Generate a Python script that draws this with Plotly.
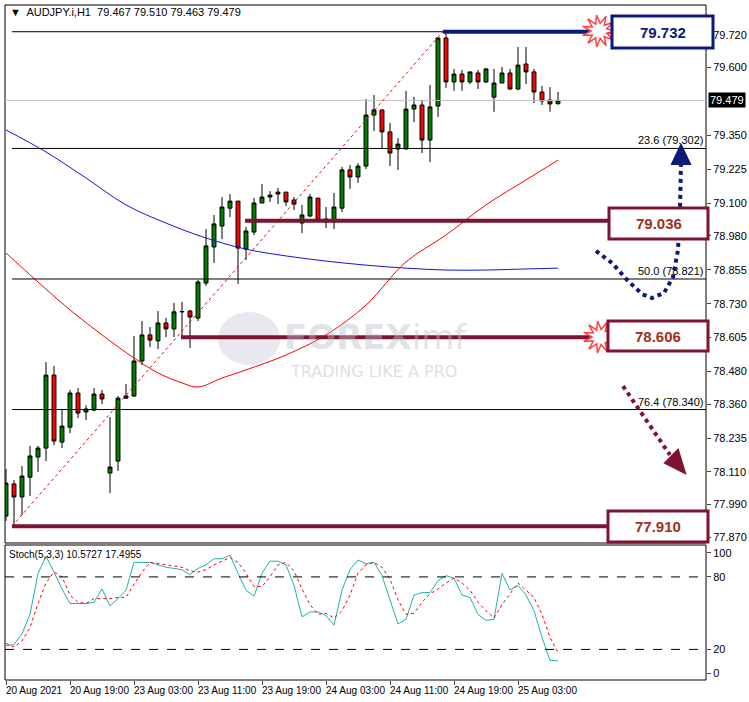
import math
import plotly.graph_objects as go

W, H = 749, 702

# ---- data (AUDJPY.i H1) ----
opens = [77.948, 78.066, 78.018, 78.091, 78.165, 78.198, 78.467, 78.220, 78.275, 78.401,
         78.331, 78.338, 78.397, 78.106, 78.150, 78.382, 78.390, 78.519, 78.615, 78.593,
         78.659, 78.637, 78.700, 78.703, 78.677, 78.806, 78.939, 79.016, 79.082, 79.108,
         78.931, 78.994, 79.101, 79.123, 79.134, 79.141, 79.112, 79.027, 79.053, 79.119,
         79.042, 79.031, 79.082, 79.223, 79.197, 79.237, 79.425, 79.444, 79.363, 79.300,
         79.300, 79.447, 79.462, 79.333, 79.458, 79.709, 79.547, 79.576, 79.547, 79.580,
         79.547, 79.491, 79.543, 79.580, 79.521, 79.613, 79.584, 79.510, 79.480, 79.467]
highs = [78.121, 78.080, 78.132, 78.206, 78.206, 78.515, 78.500, 78.338, 78.412, 78.419,
         78.356, 78.419, 78.412, 78.312, 78.390, 78.434, 78.611, 78.666, 78.644, 78.703,
         78.677, 78.733, 78.736, 78.707, 78.817, 79.005, 79.057, 79.123, 79.134, 79.108,
         79.013, 79.119, 79.171, 79.145, 79.156, 79.141, 79.123, 79.094, 79.134, 79.119,
         79.086, 79.138, 79.234, 79.241, 79.248, 79.484, 79.499, 79.444, 79.396, 79.340,
         79.514, 79.492, 79.480, 79.536, 79.709, 79.732, 79.595, 79.591, 79.584, 79.591,
         79.598, 79.595, 79.602, 79.595, 79.676, 79.676, 79.595, 79.532, 79.528, 79.510]
lows = [77.930, 77.910, 77.951, 78.021, 78.110, 78.150, 78.209, 78.198, 78.253, 78.309,
        78.301, 78.334, 78.360, 78.032, 78.114, 78.379, 78.386, 78.504, 78.570, 78.563,
        78.607, 78.607, 78.607, 78.567, 78.666, 78.795, 78.880, 78.968, 79.049, 78.803,
        78.891, 78.983, 79.101, 79.105, 79.097, 79.090, 79.075, 78.990, 79.049, 79.035,
        79.009, 79.005, 79.068, 79.153, 79.175, 79.226, 79.366, 79.300, 79.237, 79.223,
        79.300, 79.399, 79.285, 79.252, 79.418, 79.525, 79.514, 79.514, 79.539, 79.521,
        79.543, 79.437, 79.543, 79.517, 79.517, 79.539, 79.469, 79.462, 79.437, 79.463]
closes = [78.069, 78.018, 78.095, 78.169, 78.198, 78.467, 78.224, 78.279, 78.401, 78.327,
          78.342, 78.397, 78.379, 78.128, 78.382, 78.390, 78.519, 78.615, 78.596, 78.659,
          78.637, 78.700, 78.701, 78.681, 78.810, 78.943, 79.024, 79.086, 79.108, 78.935,
          78.998, 79.101, 79.123, 79.130, 79.141, 79.105, 79.097, 79.057, 79.123, 79.038,
          79.031, 79.086, 79.223, 79.197, 79.237, 79.425, 79.444, 79.363, 79.285, 79.318,
          79.447, 79.462, 79.333, 79.455, 79.709, 79.547, 79.576, 79.547, 79.584, 79.547,
          79.595, 79.543, 79.580, 79.521, 79.609, 79.584, 79.510, 79.477, 79.466, 79.479]

ma_blue_idx = [0, 5, 10, 15, 20, 25, 30, 35, 40, 45, 50, 55, 60, 65, 69]
ma_blue = [79.370, 79.289, 79.193, 79.094, 79.027, 78.972, 78.931, 78.906, 78.887,
           78.872, 78.861, 78.854, 78.854, 78.858, 78.861]
ma_red_idx = [0, 4, 8, 12, 16, 19, 22, 24, 27, 30, 35, 40, 45, 50, 55, 60, 65, 69]
ma_red = [78.917, 78.810, 78.707, 78.615, 78.530, 78.475, 78.438, 78.423, 78.456,
          78.486, 78.541, 78.615, 78.725, 78.884, 78.983, 79.094, 79.186, 79.259]

stoch_main = [23, 24, 33, 49, 83, 97, 84, 70, 58, 58, 58, 59, 70, 56, 62, 69, 92, 92, 92, 90,
              88, 87, 86, 82, 87, 90, 95, 95, 98, 83, 69, 64, 83, 93, 93, 90, 73, 47, 51, 51,
              48, 40, 69, 86, 94, 91, 92, 81, 61, 41, 45, 65, 67, 67, 77, 81, 79, 65, 63, 49,
              44, 45, 83, 69, 73, 65, 52, 30, 11, 10.57]
stoch_signal = [25, 22, 27, 38, 58, 75, 84, 80, 65, 59, 58, 62, 62, 62, 63, 63, 74, 84, 92, 91,
                90, 89, 88, 85, 84, 86, 90, 93, 96, 92, 83, 72, 72, 80, 90, 92, 85, 70, 57, 49,
                50, 46, 52, 65, 83, 90, 92, 88, 78, 61, 49, 50, 59, 66, 70, 75, 79, 75, 69, 59,
                52, 46, 57, 66, 75, 69, 63, 49, 30, 17.50]

tick_idx = [0, 8, 16, 24, 32, 40, 48, 56, 64]
tick_text = ["20 Aug 2021", "20 Aug 19:00", "23 Aug 03:00", "23 Aug 11:00", "23 Aug 19:00",
             "24 Aug 03:00", "24 Aug 11:00", "24 Aug 19:00", "25 Aug 03:00"]
price_ticks = [79.720, 79.600, 79.350, 79.225, 79.100, 78.980, 78.855, 78.730, 78.605,
               78.480, 78.360, 78.235, 78.110, 77.990, 77.870]

swing_low, swing_high = 77.910, 79.732
fib_levels = [(23.6, 79.302), (50.0, 78.821), (76.4, 78.340)]
support_levels = [79.036, 78.606]
last_price = 79.479

NAVY = "#0c1a7a"
MAROON = "#7d1530"
TXT_RED = "#a0301c"
FONT = "Liberation Sans"


def px(x):
    return x / W


def py(y):
    return 1 - y / H


bars = list(range(len(opens)))
fig = go.Figure()

fig.add_trace(go.Candlestick(
    x=bars, open=opens, high=highs, low=lows, close=closes,
    increasing=dict(fillcolor="#008000", line=dict(color="black", width=1)),
    decreasing=dict(fillcolor="#ff0000", line=dict(color="black", width=1)),
    whiskerwidth=0, showlegend=False, hoverinfo="skip",
))
fig.add_trace(go.Scatter(x=ma_blue_idx, y=ma_blue, mode="lines", line=dict(color="#1414e0", width=1),
                         line_shape="spline", showlegend=False))
fig.add_trace(go.Scatter(x=ma_red_idx, y=ma_red, mode="lines", line=dict(color="#ff0000", width=1),
                         line_shape="spline", showlegend=False))

fig.add_trace(go.Scatter(x=bars, y=stoch_main, mode="lines", line=dict(color="#20b2aa", width=1),
                         xaxis="x2", yaxis="y2", showlegend=False))
fig.add_trace(go.Scatter(x=bars, y=stoch_signal, mode="lines", line=dict(color="#ff0000", width=1, dash="dot"),
                         xaxis="x2", yaxis="y2", showlegend=False))

shapes = []
ann = []

# panel frames
shapes.append(dict(type="rect", xref="paper", yref="paper", x0=px(5), x1=px(706), y0=py(543), y1=py(5),
                   line=dict(color="black", width=1)))
shapes.append(dict(type="rect", xref="paper", yref="paper", x0=px(5), x1=px(706), y0=py(680), y1=py(545),
                   line=dict(color="black", width=1)))

# watermark
shapes.append(dict(type="circle", xref="paper", yref="paper", x0=px(218), x1=px(280), y0=py(365), y1=py(312),
                   fillcolor="rgba(190,190,205,0.35)", line=dict(width=0), layer="below"))
ann.append(dict(text="<b>FOREX</b>imf", x=px(282), y=py(337), xref="paper", yref="paper", showarrow=False,
                xanchor="left", yanchor="middle", font=dict(family="DejaVu Sans", size=34,
                                                            color="rgba(190,190,205,0.45)")))
ann.append(dict(text="TRADING LIKE A PRO", x=px(288), y=py(371), xref="paper", yref="paper", showarrow=False,
                xanchor="left", yanchor="middle", font=dict(family="DejaVu Sans", size=16,
                                                            color="rgba(190,190,205,0.5)")))

# current price line
shapes.append(dict(type="line", xref="paper", yref="y", x0=px(5), x1=px(706), y0=last_price, y1=last_price,
                   line=dict(color="#c0c0c0", width=1)))
# fib lines
shapes.append(dict(type="line", xref="paper", yref="y", x0=px(12), x1=px(608), y0=swing_high, y1=swing_high,
                   line=dict(color="black", width=1)))
for pct, lvl in fib_levels:
    shapes.append(dict(type="line", xref="paper", yref="y", x0=px(12), x1=px(706), y0=lvl, y1=lvl,
                       line=dict(color="black", width=1)))
    ann.append(dict(text=f"{pct:.1f} ({lvl:.3f})", x=px(705), y=lvl, xref="paper", yref="y", showarrow=False,
                    xanchor="right", yanchor="bottom", font=dict(family=FONT, size=11, color="black")))
shapes.append(dict(type="line", xref="x", yref="y", x0=0.75, x1=54.6, y0=swing_low, y1=swing_high,
                   line=dict(color="#ff0000", width=1, dash="dot")))

# thick support / resistance lines
shapes.append(dict(type="line", xref="paper", yref="y", x0=px(443), x1=px(612), y0=swing_high, y1=swing_high,
                   line=dict(color=NAVY, width=4)))
for lvl, x0 in [(support_levels[0], 245), (support_levels[1], 181), (swing_low, 12)]:
    shapes.append(dict(type="line", xref="paper", yref="y", x0=px(x0), x1=px(608), y0=lvl, y1=lvl,
                       line=dict(color=MAROON, width=4)))


# dotted arrows
def path_px(pts):
    return "M " + " L ".join(f"{px(a):.4f},{py(b):.4f}" for a, b in pts)


shapes.append(dict(type="path", xref="paper", yref="paper",
                   path=path_px([(596, 251), (612, 263), (628, 281), (642, 294), (652, 298), (664, 293),
                                 (673, 277), (678, 250), (680, 210), (681, 162)]),
                   line=dict(color=NAVY, width=4, dash="dot")))
shapes.append(dict(type="path", xref="paper", yref="paper",
                   path=path_px([(672, 164), (690, 164), (681, 145)]) + " Z", fillcolor=NAVY, line=dict(color=NAVY)))
shapes.append(dict(type="path", xref="paper", yref="paper",
                   path=path_px([(623, 386), (670, 455)]), line=dict(color=MAROON, width=4, dash="dot")))
shapes.append(dict(type="path", xref="paper", yref="paper",
                   path=path_px([(665, 463), (678, 450), (685, 473)]) + " Z", fillcolor=MAROON, line=dict(color=MAROON)))


# starbursts
def star(cx, cy, r1=17, r2=8, n=11):
    pts = []
    for k in range(2 * n):
        r = r1 if k % 2 == 0 else r2
        a = math.pi * k / n
        pts.append((px(cx + r * math.cos(a)), py(cy + r * math.sin(a) * 0.95)))
    return "M " + " L ".join(f"{a:.4f},{b:.4f}" for a, b in pts) + " Z"


for cx, cy in [(599, 31), (600, 337)]:
    shapes.append(dict(type="path", xref="paper", yref="paper", path=star(cx, cy), fillcolor="white",
                       line=dict(color="#ff4040", width=1.5)))

# labelled boxes
for lvl, (x0, y0, x1, y1), lc, tc in [
    (swing_high, (612, 16, 713, 48), NAVY, NAVY),
    (support_levels[0], (609, 208, 708, 239), MAROON, TXT_RED),
    (support_levels[1], (608, 321, 708, 351), MAROON, TXT_RED),
    (swing_low, (608, 511, 708, 542), MAROON, TXT_RED),
]:
    shapes.append(dict(type="rect", xref="paper", yref="paper", x0=px(x0), x1=px(x1), y0=py(y1), y1=py(y0),
                       fillcolor="white", line=dict(color=lc, width=3)))
    ann.append(dict(text=f"<b>{lvl:.3f}</b>", x=px((x0 + x1) / 2), y=py((y0 + y1) / 2), xref="paper", yref="paper",
                    xanchor="center", yanchor="middle", showarrow=False,
                    font=dict(family=FONT, size=15, color=tc)))

# stochastic levels
for lvl in [80, 20]:
    shapes.append(dict(type="line", xref="paper", yref="y2", x0=px(5), x1=px(706), y0=lvl, y1=lvl,
                       line=dict(color="black", width=1, dash="dash")))

# texts
ann.append(dict(text="▼  AUDJPY.i,H1  79.467 79.510 79.463 79.479", x=px(8), y=py(12), xref="paper", yref="paper",
                showarrow=False, xanchor="left", yanchor="middle", font=dict(family=FONT, size=11, color="black")))
ann.append(dict(text="Stoch(5,3,3) 10.5727 17.4955", x=px(7), y=py(554), xref="paper", yref="paper",
                showarrow=False, xanchor="left", yanchor="middle", font=dict(family=FONT, size=10, color="black")))
ann.append(dict(text=f"{last_price:.3f}", x=px(708), y=last_price, xref="paper", yref="y", showarrow=False,
                xanchor="left", yanchor="middle", bgcolor="black", borderpad=1,
                font=dict(family=FONT, size=11, color="white")))
for i, t in zip(tick_idx, tick_text):
    ann.append(dict(text=t, x=px(4 + 8 * i), y=py(690), xref="paper", yref="paper", showarrow=False,
                    xanchor="left", yanchor="middle", font=dict(family=FONT, size=10, color="black")))

xr = [-0.125, 87.5]
fig.update_layout(
    width=W, height=H, margin=dict(l=0, r=0, t=0, b=0),
    paper_bgcolor="white", plot_bgcolor="white",
    font=dict(family=FONT, size=11, color="black"),
    xaxis=dict(domain=[px(5), px(706)], range=xr, showgrid=False, showticklabels=False,
               rangeslider=dict(visible=False), zeroline=False),
    yaxis=dict(domain=[py(543), py(5)], range=[77.8483, 79.8305], side="right", showgrid=False,
               tickvals=price_ticks, ticktext=[f"{v:.3f}" for v in price_ticks], ticks="outside", ticklen=4,
               zeroline=False, automargin=False),
    xaxis2=dict(domain=[px(5), px(706)], range=xr, anchor="y2", showgrid=False, showticklabels=False,
                tickvals=tick_idx, ticks="outside", ticklen=4, zeroline=False),
    yaxis2=dict(domain=[py(680), py(545)], range=[-5.3, 106.4], side="right", showgrid=False,
                tickvals=[0, 20, 80, 100], ticks="outside", ticklen=4, zeroline=False, anchor="x2",
                automargin=False),
    shapes=shapes, annotations=ann,
)

fig.write_html("out.html", config={"displayModeBar": False},
               post_script="document.body.style.margin='0';document.body.style.overflow='hidden';")
